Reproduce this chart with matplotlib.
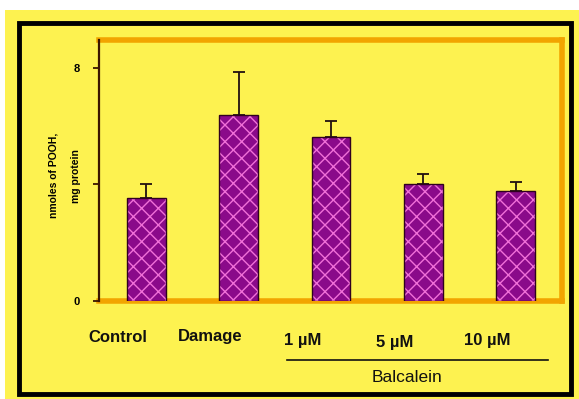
import matplotlib
matplotlib.use("Agg")
import matplotlib.pyplot as plt
from matplotlib.patches import Rectangle
from matplotlib.lines import Line2D
import matplotlib.transforms as mtransforms

# Data
groups = ["Control", "Damage", "1 µM", "5 µM", "10 µM"]
means = [3.54, 6.39, 5.64, 4.02, 3.78]
errors = [0.48, 1.48, 0.55, 0.34, 0.31]
yticks = [0, 4, 8]
yticklabels = ["0", "", "8"]
group_label = "Balcalein"
ylabel = "nmoles of POOH,\nmg protein"

YELLOW = "#FDF250"
ORANGE = "#F2A400"
PURPLE = "#8A0A8A"
PINK = "#F070D8"
DARK = "#3A1500"

W, H = 579, 399
fig = plt.figure(figsize=(W / 100, H / 100), dpi=100, facecolor="white")

def px(x0, y0, x1, y1):
    """Rectangle in pixel coordinates (top-left origin) -> figure fraction."""
    return (x0 / W, 1 - y1 / H, (x1 - x0) / W, (y1 - y0) / H)

# Yellow background panel and black frame
bx, by, bw, bh = px(5, 10, 579, 399)
fig.patches.append(Rectangle((bx, by), bw, bh, transform=fig.transFigure,
                             facecolor=YELLOW, edgecolor="none", zorder=-10))
fx, fy, fw, fh = px(19, 23, 571, 394)
fig.patches.append(Rectangle((fx, fy), fw, fh, transform=fig.transFigure,
                             facecolor="none", edgecolor="black", linewidth=3.5, zorder=-5))

ax = fig.add_axes(px(99, 40, 562, 301))
ax.set_zorder(2)
ax.set_facecolor(YELLOW)

plt.rcParams["hatch.linewidth"] = 1.0
x = list(range(len(groups)))
ax.bar(x, means, width=0.42, color=PURPLE, edgecolor=PINK, hatch="xx",
       linewidth=0, zorder=4)
ax.bar(x, means, width=0.42, color="none", edgecolor="#300020",
       linewidth=1.0, zorder=5)
ax.errorbar(x, means, yerr=[[0] * len(errors), errors], fmt="none",
            ecolor="#201010", elinewidth=1.3, capsize=4.5, capthick=1.3, zorder=3)

ax.set_xlim(-0.51, 4.5)
ax.set_ylim(0, 8.96)
ax.set_xticks([])
ax.set_yticks(yticks)
ax.set_yticklabels(yticklabels, fontsize=8, fontweight="bold",
                   family="Liberation Sans")
ax.tick_params(axis="y", length=4, width=1.3, color=DARK, pad=10)

for side in ["top", "right", "bottom"]:
    ax.spines[side].set_color(ORANGE)
    ax.spines[side].set_linewidth(4)
    ax.spines[side].set_zorder(1)
ax.spines["left"].set_color(DARK)
ax.spines["left"].set_linewidth(1.6)
ax.spines["left"].set_zorder(6)

# Rotated y-axis caption (two small lines)
ax.text(-0.074, 0.48, ylabel, transform=ax.transAxes, rotation=90,
        ha="center", va="center", fontsize=7.5, fontweight="bold",
        family="Liberation Sans", linespacing=2.5)

# Category labels under the axis
trans = mtransforms.blended_transform_factory(ax.transData, fig.transFigure)
label_y = [337, 337, 340, 343, 340]
for xi, name, yy in zip(x, groups, label_y):
    ax.text(xi - 0.31, 1 - yy / H, name, transform=trans, ha="center",
            va="center", fontsize=12, fontweight="bold",
            family="Liberation Sans", color="#111111")

# Bracket line and group caption for the treated groups
ax.add_line(Line2D([1.52, 4.35], [1 - 360 / H, 1 - 360 / H], transform=trans,
                   color="#111111", linewidth=1.2, clip_on=False))
ax.text(2.82, 1 - 378 / H, group_label, transform=trans, ha="center",
        va="center", fontsize=12.5, family="Liberation Sans", color="#111111")

fig.savefig("out.png", dpi=100, facecolor="white")
